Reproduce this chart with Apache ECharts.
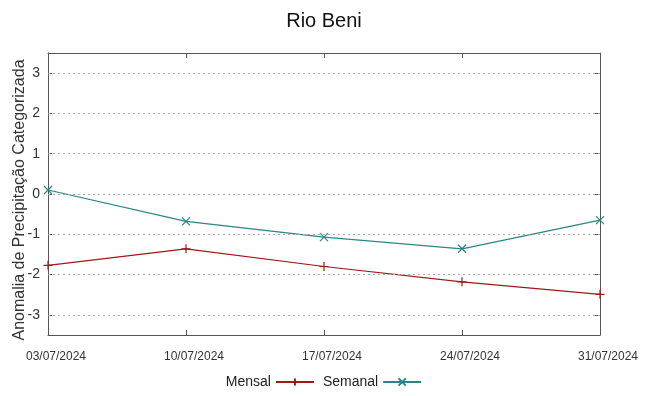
<!DOCTYPE html>
<html>
<head>
<meta charset="utf-8">
<script src="https://cdn.jsdelivr.net/npm/echarts@6/dist/echarts.min.js"></script>
<style>html,body{margin:0;padding:0;background:#fff}#c{width:648px;height:396px}</style>
</head>
<body>
<div id="c"></div>
<script>
var categories = ['03/07/2024', '10/07/2024', '17/07/2024', '24/07/2024', '31/07/2024'];
var mensal = [-1.77, -1.36, -1.80, -2.18, -2.49];
var semanal = [0.10, -0.68, -1.07, -1.36, -0.65];
var yTicks = [-3, -2, -1, 0, 1, 2, 3];

var font = 'Liberation Sans';
var plus = 'path://M0,-1L0,1M-1,0L1,0';
var cross = 'path://M-1,-1L1,1M-1,1L1,-1';
var red = '#a01818';
var teal = '#2a8585';
var chart = echarts.init(document.getElementById('c'), null, {renderer: 'canvas'});
chart.setOption({
  animation: false,
  backgroundColor: '#fff',
  title: {text: 'Rio Beni', left: 'center', top: 6,
    textStyle: {fontFamily: font, fontSize: 20, fontWeight: 'normal', color: '#111'}},
  legend: {
    bottom: 2, left: 'center', align: 'right', itemWidth: 38, itemHeight: 9, itemGap: 8,
    textStyle: {fontFamily: font, fontSize: 14, color: '#222'},
    data: ['Mensal', 'Semanal']
  },
  grid: {left: 48, right: 48, top: 53, bottom: 61, containLabel: false, outerBoundsMode: 'none'},
  xAxis: [{
    type: 'category', data: categories, boundaryGap: false,
    axisLine: {onZero: false, lineStyle: {color: '#555', width: 1}},
    axisTick: {inside: true, length: 5, lineStyle: {color: '#555'}},
    axisLabel: {fontFamily: font, fontSize: 12, color: '#333', margin: 16, padding: [0, 0, 0, 16]},
    splitLine: {show: false}
  }, {
    type: 'category', data: categories, boundaryGap: false, position: 'top',
    axisLine: {show: true, onZero: false, lineStyle: {color: '#555', width: 1}},
    axisTick: {inside: true, length: 5, lineStyle: {color: '#555'}},
    axisLabel: {show: false}, splitLine: {show: false}
  }],
  yAxis: [{
    type: 'value', min: -3.5, max: 3.5,
    axisLine: {show: true, onZero: false, lineStyle: {color: '#555', width: 1}},
    axisTick: {show: true, inside: true, length: 4, customValues: yTicks, lineStyle: {color: '#555'}},
    axisLabel: {fontFamily: font, fontSize: 14, color: '#333', margin: 8,
      customValues: yTicks},
    splitLine: {show: false},
    name: 'Anomalia de Precipitação Categorizada', nameLocation: 'middle', nameGap: 20,
    nameMoveOverlap: false,
    nameTextStyle: {fontFamily: font, fontSize: 16, color: '#333', padding: [0, 12, 0, 0]}
  }, {
    type: 'value', min: -3.5, max: 3.5, position: 'right',
    axisLine: {show: true, onZero: false, lineStyle: {color: '#555', width: 1}},
    axisTick: {show: true, inside: true, length: 5, customValues: yTicks, lineStyle: {color: '#555'}},
    axisLabel: {show: false},
    splitLine: {show: false}
  }],
  series: [{
    name: 'Mensal', type: 'line', data: mensal, xAxisIndex: 0, yAxisIndex: 0,
    symbol: plus, symbolSize: 9, showSymbol: true,
    lineStyle: {color: red, width: 1.2},
    itemStyle: {color: red, borderColor: red, borderWidth: 1.2},
    markLine: {
      silent: true, symbol: 'none', label: {show: false},
      lineStyle: {color: '#aaa', type: [2, 3], width: 1},
      data: yTicks.map(function (v) { return {yAxis: v}; })
    },
    z: 3
  }, {
    name: 'Semanal', type: 'line', data: semanal, xAxisIndex: 0, yAxisIndex: 0,
    symbol: cross, symbolSize: 8, showSymbol: true,
    lineStyle: {color: teal, width: 1.2},
    itemStyle: {color: teal, borderColor: teal, borderWidth: 1.2},
    z: 4
  }]
});
</script>
</body>
</html>
